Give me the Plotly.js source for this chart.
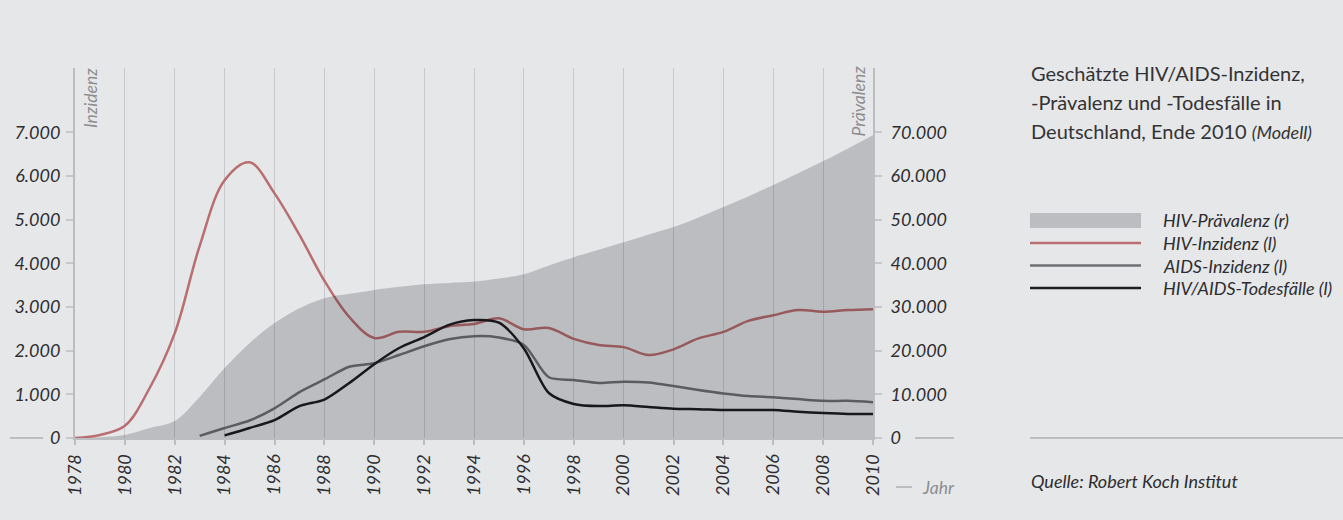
<!DOCTYPE html>
<html>
<head>
<meta charset="utf-8">
<script src="https://cdn.plot.ly/plotly-3.0.1.min.js"></script>
<style>
html,body{margin:0;padding:0;background:#e6e7e9;}
#chart{width:1343px;height:520px;}
</style>
</head>
<body>
<div id="chart"></div>
<script>
// ---------- data ----------
const years = [1978,1979,1980,1981,1982,1983,1984,1985,1986,1987,1988,1989,1990,1991,1992,1993,1994,1995,1996,1997,1998,1999,2000,2001,2002,2003,2004,2005,2006,2007,2008,2009,2010];
const hivPraevalenz = [0,200,700,2300,3900,9400,16000,21700,26300,29700,32000,33000,33900,34600,35200,35500,35800,36500,37500,39500,41400,43100,44800,46600,48300,50500,52900,55300,57900,60600,63400,66300,69300];
const hivInzidenz = [0,70,280,1150,2400,4400,5900,6310,5600,4650,3600,2770,2290,2430,2430,2560,2610,2740,2490,2520,2270,2130,2080,1900,2030,2280,2430,2680,2810,2930,2890,2930,2950];
const aidsInzidenz = [null,null,null,null,null,50,230,400,680,1050,1340,1630,1710,1900,2100,2260,2330,2300,2130,1390,1330,1260,1290,1270,1190,1100,1020,960,930,890,850,850,820];
const todesfaelle = [null,null,null,null,null,null,60,230,410,730,880,1260,1690,2060,2310,2590,2700,2640,2050,1030,780,730,750,710,670,660,640,640,640,600,570,550,550];

const xTickVals = [1978,1980,1982,1984,1986,1988,1990,1992,1994,1996,1998,2000,2002,2004,2006,2008,2010];
const yLeftVals = [0,1000,2000,3000,4000,5000,6000,7000];
const yLeftText = ['0','1.000','2.000','3.000','4.000','5.000','6.000','7.000'];
const yRightVals = [0,10000,20000,30000,40000,50000,60000,70000];
const yRightText = ['0','10.000','20.000','30.000','40.000','50.000','60.000','70.000'];

const seriesNames = ['HIV-Prävalenz (r)','HIV-Inzidenz (l)','AIDS-Inzidenz (l)','HIV/AIDS-Todesfälle (l)'];
const titleLines = ['Geschätzte HIV/AIDS-Inzidenz,','-Prävalenz und -Todesfälle in','Deutschland, Ende 2010'];
const titleNote = '(Modell)';
const sourceText = 'Quelle: Robert Koch Institut';
const leftAxisTitle = 'Inzidenz';
const rightAxisTitle = 'Prävalenz';
const xAxisTitle = 'Jahr';

// ---------- style ----------
const FONT = 'Lato, "Open Sans", sans-serif';
const BG = '#e6e7e9';
const AXIS = '#bcbdc0';
const RED = '#b96e70';
const GREY = '#717175';
const BLACK = '#1e1e20';
const TXT = '#2d2d30';
const LIGHTTXT = '#8d8e91';

// plot area in pixels
const L = 75, R = 873, T = 68, B = 438, W = 1343, H = 520;
const PX = x => (x - L) / (R - L);
const PY = y => (B - y) / (B - T);

const traces = [
  {x: years, y: hivPraevalenz, yaxis: 'y2', type: 'scatter', mode: 'lines',
   line: {width: 0, shape: 'spline', smoothing: 0.9}, fill: 'tozeroy',
   fillcolor: 'rgba(0,0,8,0.18)', name: seriesNames[0]},
  {x: years, y: hivInzidenz, type: 'scatter', mode: 'lines',
   line: {color: RED, width: 2.5, shape: 'spline', smoothing: 1.0}, name: seriesNames[1]},
  {x: years, y: aidsInzidenz, type: 'scatter', mode: 'lines',
   line: {color: GREY, width: 2.5, shape: 'spline', smoothing: 0.8}, name: seriesNames[2]},
  {x: years, y: todesfaelle, type: 'scatter', mode: 'lines',
   line: {color: BLACK, width: 2.5, shape: 'spline', smoothing: 0.8}, name: seriesNames[3]}
];

const shapes = [
  {type:'line', xref:'paper', yref:'paper', x0:PX(10), x1:PX(43), y0:0, y1:0, line:{color:AXIS, width:2}},
  {type:'line', xref:'paper', yref:'paper', x0:PX(915), x1:PX(954), y0:0, y1:0, line:{color:AXIS, width:2}},
  {type:'line', xref:'paper', yref:'paper', x0:PX(896), x1:PX(912), y0:PY(487), y1:PY(487), line:{color:AXIS, width:2}},
  {type:'line', xref:'paper', yref:'paper', x0:PX(1030), x1:PX(1343), y0:PY(438), y1:PY(438), line:{color:AXIS, width:2}},
  {type:'rect', xref:'paper', yref:'paper', x0:PX(1030), x1:PX(1141), y0:PY(213), y1:PY(228), line:{width:0}, fillcolor:'#bcbdc1'},
  {type:'line', xref:'paper', yref:'paper', x0:PX(1030), x1:PX(1141), y0:PY(243), y1:PY(243), line:{color:RED, width:2.4}},
  {type:'line', xref:'paper', yref:'paper', x0:PX(1030), x1:PX(1141), y0:PY(265.5), y1:PY(265.5), line:{color:GREY, width:2.4}},
  {type:'line', xref:'paper', yref:'paper', x0:PX(1030), x1:PX(1141), y0:PY(288), y1:PY(288), line:{color:BLACK, width:2.4}}
];

const ann = [];
const legY = [220, 243, 265.5, 288];
seriesNames.forEach((n, i) => ann.push({xref:'paper', yref:'paper', x:PX(1161), y:PY(legY[i]), xanchor:'left', yanchor:'middle',
  text:n, showarrow:false, font:{family:FONT, size:18, color:TXT, style:'italic'}}));
const tY = [73, 102, 131];
titleLines.forEach((t, i) => ann.push({xref:'paper', yref:'paper', x:PX(1029), y:PY(tY[i]), xanchor:'left', yanchor:'middle',
  text: i === 2 ? t + ' <i><span style="font-size:18px">' + titleNote + '</span></i>' : t,
  showarrow:false, font:{family:FONT, size:20, color:'#333335'}}));
ann.push({xref:'paper', yref:'paper', x:PX(1029), y:PY(481), xanchor:'left', yanchor:'middle', text:sourceText,
  showarrow:false, font:{family:FONT, size:18, color:TXT, style:'italic'}});
ann.push({xref:'paper', yref:'paper', x:PX(90), y:PY(66), xanchor:'center', yanchor:'top', textangle:-90, text:leftAxisTitle,
  showarrow:false, font:{family:FONT, size:17.5, color:LIGHTTXT, style:'italic'}});
ann.push({xref:'paper', yref:'paper', x:PX(858), y:PY(64), xanchor:'center', yanchor:'top', textangle:-90, text:rightAxisTitle,
  showarrow:false, font:{family:FONT, size:17.5, color:LIGHTTXT, style:'italic'}});
ann.push({xref:'paper', yref:'paper', x:PX(920), y:PY(487), xanchor:'left', yanchor:'middle', text:xAxisTitle,
  showarrow:false, font:{family:FONT, size:17.5, color:LIGHTTXT, style:'italic'}});

const tickFont = {family: FONT, size: 18, color: TXT, style: 'italic'};

const layout = {
  width: W, height: H,
  margin: {l: L, r: W - R, t: T, b: H - B, pad: 0},
  paper_bgcolor: BG, plot_bgcolor: BG,
  showlegend: false,
  xaxis: {range: [1978, 2010], tickvals: xTickVals, tickangle: -90, tickfont: tickFont,
    showgrid: true, gridcolor: '#c8c9cc', gridwidth: 1, ticks: 'outside', ticklen: 5, tickwidth: 2, tickcolor: AXIS,
    showline: true, linecolor: AXIS, linewidth: 2, zeroline: false, fixedrange: true, ticklabelstandoff: 2},
  yaxis: {range: [0, 8470], tickvals: yLeftVals, ticktext: yLeftText, tickfont: tickFont,
    showgrid: false, zeroline: false, ticks: 'outside', ticklen: 7, tickwidth: 2, tickcolor: '#c6c7ca',
    showline: true, linecolor: AXIS, linewidth: 2, ticklabelstandoff: 2},
  yaxis2: {range: [0, 84700], tickvals: yRightVals, ticktext: yRightText, tickfont: tickFont, overlaying: 'y', side: 'right',
    showgrid: false, zeroline: false, ticks: 'outside', ticklen: 7, tickwidth: 2, tickcolor: '#c6c7ca',
    showline: true, linecolor: AXIS, linewidth: 2, ticklabelstandoff: 5},
  shapes: shapes,
  annotations: ann
};

Plotly.newPlot('chart', traces, layout, {displayModeBar: false, staticPlot: true});
</script>
</body>
</html>
